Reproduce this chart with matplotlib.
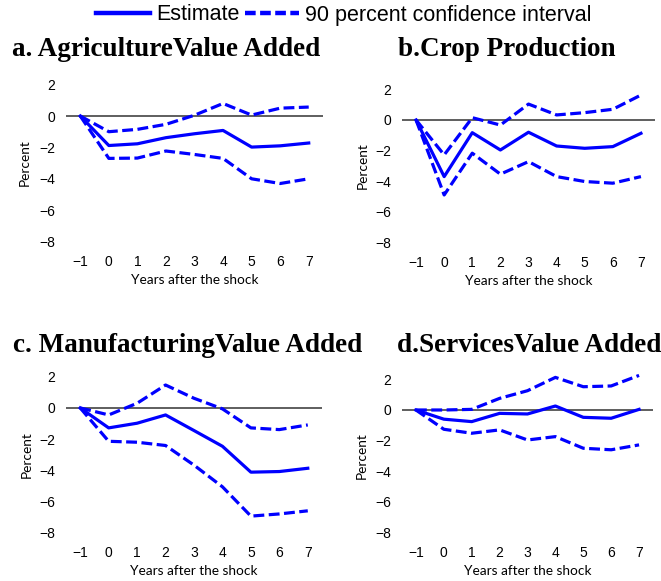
import matplotlib
matplotlib.use("Agg")
import matplotlib.pyplot as plt
from matplotlib.lines import Line2D

years = [-1, 0, 1, 2, 3, 4, 5, 6, 7]

agri_est = [0, -1.88, -1.77, -1.38, -1.13, -0.92, -1.98, -1.90, -1.72]
agri_hi = [0, -1.00, -0.85, -0.53, 0.05, 0.80, 0.06, 0.50, 0.57]
agri_lo = [0, -2.70, -2.68, -2.23, -2.45, -2.70, -4.00, -4.30, -4.00]

crop_est = [0, -3.70, -0.83, -1.96, -0.80, -1.70, -1.85, -1.74, -0.87]
crop_hi = [0, -2.28, 0.15, -0.33, 1.04, 0.33, 0.48, 0.70, 1.63]
crop_lo = [0, -4.90, -2.17, -3.54, -2.72, -3.70, -4.02, -4.13, -3.70]

manu_est = [0, -1.28, -0.98, -0.45, -1.45, -2.46, -4.12, -4.08, -3.87]
manu_hi = [0, -0.45, 0.30, 1.47, 0.62, -0.06, -1.28, -1.39, -1.09]
manu_lo = [0, -2.14, -2.20, -2.41, -3.67, -5.06, -6.94, -6.80, -6.60]

serv_est = [0, -0.60, -0.76, -0.22, -0.26, 0.26, -0.48, -0.54, 0.04]
serv_hi = [0, 0.00, 0.04, 0.76, 1.26, 2.13, 1.52, 1.57, 2.26]
serv_lo = [0, -1.26, -1.52, -1.30, -1.96, -1.74, -2.50, -2.60, -2.28]

titles = ["a. AgricultureValue Added", "b.Crop Production",
          "c. ManufacturingValue Added", "d.ServicesValue Added"]
yticks = [2, 0, -2, -4, -6, -8]
legend_labels = ["Estimate", "90 percent confidence interval"]

W, H = 661, 581
fig = plt.figure(figsize=(W / 100, H / 100), dpi=100)

BLUE = "#0000ff"
TICK_FONT = "Liberation Sans"
LABEL_FONT = "Lato"


def minus(v):
    return f"{v}".replace("-", "\u2212")


# panel boxes in pixels: left, right, top, bottom
boxes = [(66, 323, 75.2, 251.0),
         (402, 655, 80.2, 251.6),
         (66, 322, 367.4, 542.0),
         (402, 653, 370.2, 541.6)]
ylabel_x = [25, 363, 27, 362]
title_pos = [(12, 56), (398, 56), (13, 352), (397, 352)]
series = [(agri_est, agri_hi, agri_lo), (crop_est, crop_hi, crop_lo),
          (manu_est, manu_hi, manu_lo), (serv_est, serv_hi, serv_lo)]

for (l, r, t, b), yx, (tx, ty), title, (est, hi, lo) in zip(
        boxes, ylabel_x, title_pos, titles, series):
    ax = fig.add_axes([l / W, 1 - b / H, (r - l) / W, (b - t) / H])
    ax.set_xlim(-1.5, 7.5)
    ax.set_ylim(-8.6, 2.6)
    ax.axhline(0, color="#333333", lw=1.1, zorder=1)
    ax.plot(years, est, color=BLUE, lw=2.3, zorder=3)
    for band in (hi, lo):
        ax.plot(years, band, color=BLUE, lw=2.3, ls=(0, (3.4, 1.4)), zorder=3)
    for s in ax.spines.values():
        s.set_visible(False)
    ax.set_xticks(years)
    ax.set_xticklabels([minus(y) for y in years], family=TICK_FONT, fontsize=10)
    ax.set_yticks(yticks)
    ax.set_yticklabels([minus(y) for y in yticks], family=TICK_FONT, fontsize=10)
    ax.tick_params(axis="both", length=0)
    ax.tick_params(axis="x", pad=3)
    ax.tick_params(axis="y", pad=8)
    ax.set_ylabel("Percent", family=LABEL_FONT, fontsize=9.8)
    ax.yaxis.label.set_va("center")
    ax.yaxis.set_label_coords(-(l - yx) / (r - l), 0.5)
    ax.set_xlabel("Years after the shock", family=LABEL_FONT, fontsize=9.8)
    ax.xaxis.label.set_va("center")
    ax.xaxis.set_label_coords(0.5, -29 / (b - t))
    ax.patch.set_alpha(0)
    fig.text(tx / W, 1 - ty / H, title, family="Liberation Serif",
             weight="bold", fontsize=19.5, ha="left", va="baseline")

handles = [Line2D([], [], color=BLUE, lw=3.2),
           Line2D([], [], color=BLUE, lw=3.2, ls=(0, (2.4, 1.0)))]
fig.legend(handles, legend_labels, loc="center", bbox_to_anchor=(344 / W, 1 - 15 / H),
           ncol=2, frameon=False, handlelength=2.5, handletextpad=0.3,
           columnspacing=0.25, borderaxespad=0,
           prop={"family": TICK_FONT, "size": 15.5})

fig.savefig("out.png", dpi=100)
